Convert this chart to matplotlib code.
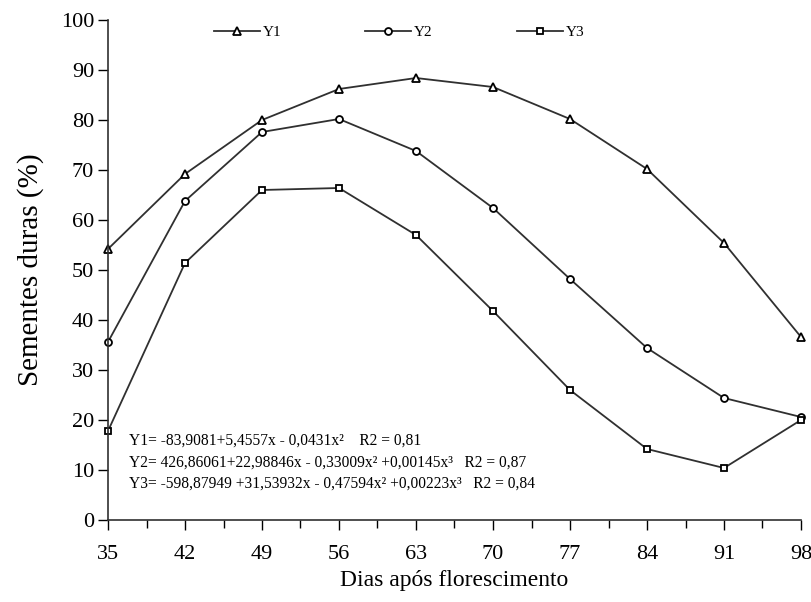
import matplotlib
matplotlib.use("Agg")
import matplotlib.pyplot as plt
from matplotlib.ticker import MultipleLocator

# Data
dias = [35, 42, 49, 56, 63, 70, 77, 84, 91, 98]
y1 = [54.2, 69.2, 80.0, 86.2, 88.4, 86.6, 80.2, 70.2, 55.4, 36.6]
y2 = [35.6, 63.8, 77.6, 80.2, 73.8, 62.4, 48.2, 34.4, 24.4, 20.6]
y3 = [17.8, 51.4, 66.0, 66.4, 57.0, 41.8, 26.0, 14.2, 10.4, 20.0]

equations = [
    "Y1= -83,9081+5,4557x - 0,0431x\u00b2    R2 = 0,81",
    "Y2= 426,86061+22,98846x - 0,33009x\u00b2 +0,00145x\u00b3   R2 = 0,87",
    "Y3= -598,87949 +31,53932x - 0,47594x\u00b2 +0,00223x\u00b3   R2 = 0,84",
]

plt.rcParams["font.family"] = ["Liberation Serif", "DejaVu Serif"]

fig = plt.figure(figsize=(8.12, 6.02), dpi=100)
ax = fig.add_axes([108 / 812, 1 - 520 / 602, 693 / 812, 500 / 602])

LINE = "#303030"
common = dict(color=LINE, linewidth=1.3, markerfacecolor="white",
              markeredgecolor="black", markeredgewidth=1.3, clip_on=False)
ax.plot(dias, y1, marker="^", markersize=6, label="Y1", **common)
ax.plot(dias, y2, marker="o", markersize=5, label="Y2", **common)
ax.plot(dias, y3, marker="s", markersize=5, label="Y3", **common)

ax.set_xlim(35, 98)
ax.set_ylim(0, 100)
ax.set_xticks(dias)
ax.xaxis.set_minor_locator(MultipleLocator(3.5))
ax.yaxis.set_major_locator(MultipleLocator(10))
ax.tick_params(axis="both", which="major", direction="out", length=7,
               width=1, labelsize=16, colors="black")
ax.tick_params(axis="x", which="minor", direction="out", length=6, width=1)
ax.tick_params(axis="x", pad=11)
ax.tick_params(axis="y", pad=3)
for s in ("top", "right"):
    ax.spines[s].set_visible(False)
for s in ("left", "bottom"):
    ax.spines[s].set_color("#303030")
    ax.spines[s].set_linewidth(1.2)

ax.set_xlabel("Dias após florescimento", fontsize=17, labelpad=4)
ax.set_ylabel("Sementes duras (%)", fontsize=21)
ax.yaxis.set_label_coords(-0.092, 0.5)

ax.legend(loc="center", bbox_to_anchor=(0.42, 0.975), ncol=3, frameon=False,
          fontsize=11, handlelength=3.0, columnspacing=5.5, handletextpad=0.2)

for i, eq in enumerate(equations):
    ax.text(0.03, 0.158 - i * 0.043, eq, transform=ax.transAxes,
            fontsize=11.2, va="center", ha="left")

fig.savefig("out.png", dpi=100)
